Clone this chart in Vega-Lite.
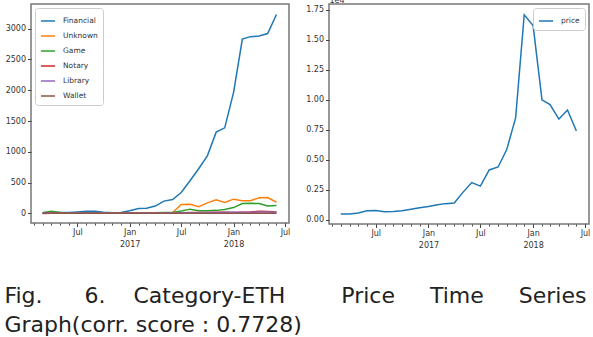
{
  "$schema": "https://vega.github.io/schema/vega-lite/v6.json",
  "background": "white",
  "padding": {"left": 4, "top": -5, "right": 8, "bottom": 0},
  "spacing": 13,
  "resolve": {"scale": {"color": "independent"}, "legend": {"color": "independent"}},
  "config": {
    "view": {"stroke": "#777", "strokeWidth": 1.5},
    "axis": {"labelFont": "DejaVu Sans", "labelFontSize": 8, "labelColor": "#333", "tickColor": "#444", "domain": false, "grid": false, "labelPadding": 2},
    "legend": {"labelFont": "DejaVu Sans", "labelFontSize": 7.5, "labelColor": "#333", "labelOffset": 7, "symbolType": "stroke", "symbolStrokeWidth": 1.5, "symbolSize": 200, "fillColor": "white", "strokeColor": "#ccc", "padding": 5, "cornerRadius": 3, "rowPadding": 3, "offset": 4, "title": null}
  },
  "title": {
    "text": ["Fig.\u00a0\u00a0\u00a0\u00a0\u00a0\u00a06.\u00a0\u00a0\u00a0\u00a0Category-ETH\u00a0\u00a0\u00a0\u00a0\u00a0\u00a0\u00a0\u00a0Price\u00a0\u00a0\u00a0\u00a0\u00a0Time\u00a0\u00a0\u00a0\u00a0\u00a0Series", "Graph(corr. score : 0.7728)"],
    "orient": "bottom", "anchor": "start", "frame": "bounds",
    "font": "DejaVu Sans", "fontSize": 22, "fontWeight": "normal", "color": "#222", "lineHeight": 29, "offset": 36
  },
  "datasets": {
    "cat": [
      {"date":"2016/03/01","category":"Financial","count":10},{"date":"2016/04/01","category":"Financial","count":22},{"date":"2016/05/01","category":"Financial","count":15},{"date":"2016/06/01","category":"Financial","count":15},{"date":"2016/07/01","category":"Financial","count":25},{"date":"2016/08/01","category":"Financial","count":35},{"date":"2016/09/01","category":"Financial","count":35},{"date":"2016/10/01","category":"Financial","count":20},{"date":"2016/11/01","category":"Financial","count":10},{"date":"2016/12/01","category":"Financial","count":15},{"date":"2017/01/01","category":"Financial","count":45},{"date":"2017/02/01","category":"Financial","count":80},{"date":"2017/03/01","category":"Financial","count":85},{"date":"2017/04/01","category":"Financial","count":120},{"date":"2017/05/01","category":"Financial","count":200},{"date":"2017/06/01","category":"Financial","count":225},{"date":"2017/07/01","category":"Financial","count":340},{"date":"2017/08/01","category":"Financial","count":530},{"date":"2017/09/01","category":"Financial","count":730},{"date":"2017/10/01","category":"Financial","count":935},{"date":"2017/11/01","category":"Financial","count":1320},{"date":"2017/12/01","category":"Financial","count":1390},{"date":"2018/01/01","category":"Financial","count":1960},{"date":"2018/02/01","category":"Financial","count":2830},{"date":"2018/03/01","category":"Financial","count":2870},{"date":"2018/04/01","category":"Financial","count":2880},{"date":"2018/05/01","category":"Financial","count":2920},{"date":"2018/06/01","category":"Financial","count":3230},
      {"date":"2016/03/01","category":"Unknown","count":5},{"date":"2016/04/01","category":"Unknown","count":5},{"date":"2016/05/01","category":"Unknown","count":5},{"date":"2016/06/01","category":"Unknown","count":5},{"date":"2016/07/01","category":"Unknown","count":5},{"date":"2016/08/01","category":"Unknown","count":5},{"date":"2016/09/01","category":"Unknown","count":5},{"date":"2016/10/01","category":"Unknown","count":5},{"date":"2016/11/01","category":"Unknown","count":8},{"date":"2016/12/01","category":"Unknown","count":8},{"date":"2017/01/01","category":"Unknown","count":8},{"date":"2017/02/01","category":"Unknown","count":8},{"date":"2017/03/01","category":"Unknown","count":8},{"date":"2017/04/01","category":"Unknown","count":10},{"date":"2017/05/01","category":"Unknown","count":10},{"date":"2017/06/01","category":"Unknown","count":15},{"date":"2017/07/01","category":"Unknown","count":145},{"date":"2017/08/01","category":"Unknown","count":150},{"date":"2017/09/01","category":"Unknown","count":110},{"date":"2017/10/01","category":"Unknown","count":172},{"date":"2017/11/01","category":"Unknown","count":220},{"date":"2017/12/01","category":"Unknown","count":180},{"date":"2018/01/01","category":"Unknown","count":232},{"date":"2018/02/01","category":"Unknown","count":205},{"date":"2018/03/01","category":"Unknown","count":205},{"date":"2018/04/01","category":"Unknown","count":255},{"date":"2018/05/01","category":"Unknown","count":258},{"date":"2018/06/01","category":"Unknown","count":182},
      {"date":"2016/03/01","category":"Game","count":10},{"date":"2016/04/01","category":"Game","count":35},{"date":"2016/05/01","category":"Game","count":15},{"date":"2016/06/01","category":"Game","count":10},{"date":"2016/07/01","category":"Game","count":10},{"date":"2016/08/01","category":"Game","count":10},{"date":"2016/09/01","category":"Game","count":10},{"date":"2016/10/01","category":"Game","count":5},{"date":"2016/11/01","category":"Game","count":5},{"date":"2016/12/01","category":"Game","count":5},{"date":"2017/01/01","category":"Game","count":5},{"date":"2017/02/01","category":"Game","count":5},{"date":"2017/03/01","category":"Game","count":5},{"date":"2017/04/01","category":"Game","count":10},{"date":"2017/05/01","category":"Game","count":15},{"date":"2017/06/01","category":"Game","count":15},{"date":"2017/07/01","category":"Game","count":40},{"date":"2017/08/01","category":"Game","count":70},{"date":"2017/09/01","category":"Game","count":45},{"date":"2017/10/01","category":"Game","count":42},{"date":"2017/11/01","category":"Game","count":50},{"date":"2017/12/01","category":"Game","count":65},{"date":"2018/01/01","category":"Game","count":95},{"date":"2018/02/01","category":"Game","count":160},{"date":"2018/03/01","category":"Game","count":165},{"date":"2018/04/01","category":"Game","count":160},{"date":"2018/05/01","category":"Game","count":120},{"date":"2018/06/01","category":"Game","count":130},
      {"date":"2016/03/01","category":"Notary","count":3},{"date":"2016/04/01","category":"Notary","count":5},{"date":"2016/05/01","category":"Notary","count":3},{"date":"2016/06/01","category":"Notary","count":3},{"date":"2016/07/01","category":"Notary","count":3},{"date":"2016/08/01","category":"Notary","count":5},{"date":"2016/09/01","category":"Notary","count":5},{"date":"2016/10/01","category":"Notary","count":3},{"date":"2016/11/01","category":"Notary","count":3},{"date":"2016/12/01","category":"Notary","count":3},{"date":"2017/01/01","category":"Notary","count":3},{"date":"2017/02/01","category":"Notary","count":3},{"date":"2017/03/01","category":"Notary","count":3},{"date":"2017/04/01","category":"Notary","count":5},{"date":"2017/05/01","category":"Notary","count":5},{"date":"2017/06/01","category":"Notary","count":5},{"date":"2017/07/01","category":"Notary","count":10},{"date":"2017/08/01","category":"Notary","count":15},{"date":"2017/09/01","category":"Notary","count":15},{"date":"2017/10/01","category":"Notary","count":15},{"date":"2017/11/01","category":"Notary","count":20},{"date":"2017/12/01","category":"Notary","count":20},{"date":"2018/01/01","category":"Notary","count":15},{"date":"2018/02/01","category":"Notary","count":20},{"date":"2018/03/01","category":"Notary","count":25},{"date":"2018/04/01","category":"Notary","count":35},{"date":"2018/05/01","category":"Notary","count":30},{"date":"2018/06/01","category":"Notary","count":25},
      {"date":"2016/03/01","category":"Library","count":2},{"date":"2016/04/01","category":"Library","count":3},{"date":"2016/05/01","category":"Library","count":3},{"date":"2016/06/01","category":"Library","count":3},{"date":"2016/07/01","category":"Library","count":3},{"date":"2016/08/01","category":"Library","count":3},{"date":"2016/09/01","category":"Library","count":3},{"date":"2016/10/01","category":"Library","count":3},{"date":"2016/11/01","category":"Library","count":3},{"date":"2016/12/01","category":"Library","count":3},{"date":"2017/01/01","category":"Library","count":5},{"date":"2017/02/01","category":"Library","count":5},{"date":"2017/03/01","category":"Library","count":5},{"date":"2017/04/01","category":"Library","count":5},{"date":"2017/05/01","category":"Library","count":8},{"date":"2017/06/01","category":"Library","count":8},{"date":"2017/07/01","category":"Library","count":10},{"date":"2017/08/01","category":"Library","count":12},{"date":"2017/09/01","category":"Library","count":12},{"date":"2017/10/01","category":"Library","count":15},{"date":"2017/11/01","category":"Library","count":15},{"date":"2017/12/01","category":"Library","count":18},{"date":"2018/01/01","category":"Library","count":18},{"date":"2018/02/01","category":"Library","count":20},{"date":"2018/03/01","category":"Library","count":20},{"date":"2018/04/01","category":"Library","count":22},{"date":"2018/05/01","category":"Library","count":22},{"date":"2018/06/01","category":"Library","count":20},
      {"date":"2016/03/01","category":"Wallet","count":1},{"date":"2016/04/01","category":"Wallet","count":2},{"date":"2016/05/01","category":"Wallet","count":2},{"date":"2016/06/01","category":"Wallet","count":2},{"date":"2016/07/01","category":"Wallet","count":2},{"date":"2016/08/01","category":"Wallet","count":2},{"date":"2016/09/01","category":"Wallet","count":2},{"date":"2016/10/01","category":"Wallet","count":2},{"date":"2016/11/01","category":"Wallet","count":2},{"date":"2016/12/01","category":"Wallet","count":2},{"date":"2017/01/01","category":"Wallet","count":3},{"date":"2017/02/01","category":"Wallet","count":3},{"date":"2017/03/01","category":"Wallet","count":3},{"date":"2017/04/01","category":"Wallet","count":3},{"date":"2017/05/01","category":"Wallet","count":3},{"date":"2017/06/01","category":"Wallet","count":3},{"date":"2017/07/01","category":"Wallet","count":5},{"date":"2017/08/01","category":"Wallet","count":5},{"date":"2017/09/01","category":"Wallet","count":5},{"date":"2017/10/01","category":"Wallet","count":5},{"date":"2017/11/01","category":"Wallet","count":5},{"date":"2017/12/01","category":"Wallet","count":5},{"date":"2018/01/01","category":"Wallet","count":5},{"date":"2018/02/01","category":"Wallet","count":5},{"date":"2018/03/01","category":"Wallet","count":5},{"date":"2018/04/01","category":"Wallet","count":5},{"date":"2018/05/01","category":"Wallet","count":5},{"date":"2018/06/01","category":"Wallet","count":5}
    ],
    "price": [
      {"date":"2016/03/01","series":"price","price":0.047},{"date":"2016/04/01","series":"price","price":0.047},{"date":"2016/05/01","series":"price","price":0.056},{"date":"2016/06/01","series":"price","price":0.075},{"date":"2016/07/01","series":"price","price":0.077},{"date":"2016/08/01","series":"price","price":0.067},{"date":"2016/09/01","series":"price","price":0.069},{"date":"2016/10/01","series":"price","price":0.075},{"date":"2016/11/01","series":"price","price":0.088},{"date":"2016/12/01","series":"price","price":0.1},{"date":"2017/01/01","series":"price","price":0.11},{"date":"2017/02/01","series":"price","price":0.124},{"date":"2017/03/01","series":"price","price":0.134},{"date":"2017/04/01","series":"price","price":0.139},{"date":"2017/05/01","series":"price","price":0.228},{"date":"2017/06/01","series":"price","price":0.31},{"date":"2017/07/01","series":"price","price":0.28},{"date":"2017/08/01","series":"price","price":0.415},{"date":"2017/09/01","series":"price","price":0.44},{"date":"2017/10/01","series":"price","price":0.585},{"date":"2017/11/01","series":"price","price":0.85},{"date":"2017/12/01","series":"price","price":1.71},{"date":"2018/01/01","series":"price","price":1.62},{"date":"2018/02/01","series":"price","price":1.0},{"date":"2018/03/01","series":"price","price":0.96},{"date":"2018/04/01","series":"price","price":0.84},{"date":"2018/05/01","series":"price","price":0.915},{"date":"2018/06/01","series":"price","price":0.74}
    ]
  },
  "hconcat": [
    {
      "width": 258, "height": 219,
      "data": {"name": "cat"},
      "layer": [
        {
          "mark": {"type": "line", "strokeWidth": 1.5},
          "encoding": {
            "x": {"field": "date", "type": "temporal",
              "scale": {"domain": [{"year": 2016, "month": 1, "date": 20}, {"year": 2018, "month": 7, "date": 15}]},
              "axis": {"title": null, "tickSize": 3.5, "labelLineHeight": 12,
                "values": [{"year": 2016, "month": 7, "date": 1}, {"year": 2017, "month": 1, "date": 1}, {"year": 2017, "month": 7, "date": 1}, {"year": 2018, "month": 1, "date": 1}, {"year": 2018, "month": 7, "date": 1}],
                "labelExpr": "month(datum.value) == 0 ? ['Jan', timeFormat(datum.value, '%Y')] : 'Jul'"}},
            "y": {"field": "count", "type": "quantitative",
              "scale": {"domain": [-155, 3400], "nice": false, "zero": false},
              "axis": {"title": null, "tickSize": 3.5, "format": "d", "values": [0, 500, 1000, 1500, 2000, 2500, 3000]}},
            "color": {"field": "category", "type": "nominal",
              "scale": {"domain": ["Financial", "Unknown", "Game", "Notary", "Library", "Wallet"], "range": ["#1f77b4", "#ff7f0e", "#2ca02c", "#d62728", "#9467bd", "#8c564b"]},
              "legend": {"orient": "top-left"}}
          }
        },
        {
          "mark": {"type": "rule", "strokeOpacity": 0},
          "encoding": {
            "x": {"field": "date", "type": "temporal",
              "axis": {"title": null, "orient": "bottom", "labels": false, "tickSize": 2, "tickCount": {"interval": "month", "step": 1}}}
          }
        }
      ],
      "resolve": {"axis": {"x": "independent"}}
    },
    {
      "width": 260, "height": 220,
      "data": {"name": "price"},
      "layer": [
        {
          "mark": {"type": "line", "strokeWidth": 1.5},
          "encoding": {
            "x": {"field": "date", "type": "temporal",
              "scale": {"domain": [{"year": 2016, "month": 1, "date": 20}, {"year": 2018, "month": 7, "date": 15}]},
              "axis": {"title": null, "tickSize": 3.5, "labelLineHeight": 12,
                "values": [{"year": 2016, "month": 7, "date": 1}, {"year": 2017, "month": 1, "date": 1}, {"year": 2017, "month": 7, "date": 1}, {"year": 2018, "month": 1, "date": 1}, {"year": 2018, "month": 7, "date": 1}],
                "labelExpr": "month(datum.value) == 0 ? ['Jan', timeFormat(datum.value, '%Y')] : 'Jul'"}},
            "y": {"field": "price", "type": "quantitative",
              "scale": {"domain": [-0.036, 1.8], "nice": false, "zero": false},
              "axis": {"title": "1e4", "titleAngle": 0, "titleX": 0, "titleY": -2, "titleAlign": "left", "titleBaseline": "alphabetic", "titleFont": "DejaVu Sans", "titleFontSize": 8, "titleFontWeight": "normal", "titleColor": "#333", "tickSize": 3.5, "format": ".2f", "values": [0, 0.25, 0.5, 0.75, 1.0, 1.25, 1.5, 1.75]}},
            "color": {"field": "series", "type": "nominal", "scale": {"range": ["#1f77b4"]}, "legend": {"orient": "top-right"}}
          }
        },
        {
          "mark": {"type": "rule", "strokeOpacity": 0},
          "encoding": {
            "x": {"field": "date", "type": "temporal",
              "axis": {"title": null, "orient": "bottom", "labels": false, "tickSize": 2, "tickCount": {"interval": "month", "step": 1}}}
          }
        }
      ],
      "resolve": {"axis": {"x": "independent"}}
    }
  ]
}
